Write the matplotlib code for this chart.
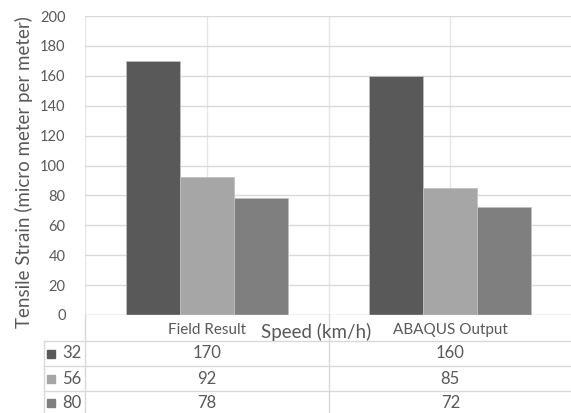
import matplotlib
matplotlib.use("Agg")
import matplotlib.pyplot as plt
import numpy as np

categories = ["Field Result", "ABAQUS Output"]
speeds = ["32", "56", "80"]
strain_32 = [170, 160]
strain_56 = [92, 85]
strain_80 = [78, 72]
series = [strain_32, strain_56, strain_80]
colors = ["#595959", "#a6a6a6", "#7f7f7f"]
yticks = [0, 20, 40, 60, 80, 100, 120, 140, 160, 180, 200]

plt.rcParams["font.family"] = ["Lato", "DejaVu Sans"]
TXT = "#595959"
GRID = "#d9d9d9"

W, H = 571, 413
fig = plt.figure(figsize=(W / 100, H / 100), dpi=100)

def fx(px):
    return px / W

def fy(py):
    return 1 - py / H

# plot area
ax = fig.add_axes([fx(85), fy(315), fx(572) - fx(85), fy(16) - fy(315)])
x = np.arange(len(categories))
bw = 0.222
for i, (vals, c) in enumerate(zip(series, colors)):
    ax.bar(x + (i - 1) * bw, vals, width=bw, color=c, edgecolor="#bfbfbf",
           linewidth=0.6, zorder=3)
ax.set_xlim(-0.5, 1.5)
ax.set_ylim(0, 200)
ax.set_yticks(yticks)
ax.set_yticklabels([str(t) for t in yticks], color=TXT, fontsize=10.5)
ax.tick_params(axis="y", length=0, pad=14)
ax.set_xticks([])
ax.grid(axis="y", color=GRID, linewidth=1, zorder=0)
for xv in (-0.5, 0, 0.5, 1):
    ax.axvline(xv, color="#e6e6e6", linewidth=1, zorder=0)
for s in ax.spines.values():
    s.set_visible(False)
ax.axhline(0, color=GRID, linewidth=1, zorder=4)

fig.text(fx(24), fy(172), "Tensile Strain (micro meter per meter)", rotation=90,
         ha="center", va="center", fontsize=13.5, color=TXT)

# data table below the plot
tx = fig.add_axes([fx(85), 0, fx(572) - fx(85), fy(315)])
tx.set_xlim(-0.5, 1.5)
tx.set_ylim(413, 315)
tx.axis("off")
left = -0.5 - 41 / 243.5
rows_top = [341, 366, 391]
rows_bottom = [366, 391, 416]
tx.plot([-0.5, -0.5], [315, 413], color=GRID, lw=1, clip_on=False)
tx.plot([0.5, 0.5], [315, 413], color=GRID, lw=1, clip_on=False)
tx.plot([left, left], [341, 413], color=GRID, lw=1, clip_on=False)
for yl in rows_top:
    tx.plot([left, 1.5], [yl, yl], color=GRID, lw=1, clip_on=False)

for xi, cat in zip(x, categories):
    tx.text(xi, 330, cat, ha="center", va="center", fontsize=11, color=TXT)
tx.text(0.45, 332, "Speed (km/h)", ha="center", va="center", fontsize=13.5, color=TXT)

for r, (lab, vals, c) in enumerate(zip(speeds, series, colors)):
    yc = (rows_top[r] + min(rows_bottom[r], 413)) / 2 + (0 if r < 2 else 1)
    tx.plot([left + 0.03], [yc], marker="s", markersize=6, color=c,
            linestyle="none", clip_on=False)
    tx.text(left + 0.074, yc, lab, ha="left", va="center", fontsize=12, color=TXT)
    for xi, v in zip(x, vals):
        tx.text(xi, yc, str(v), ha="center", va="center", fontsize=12, color=TXT)

fig.savefig("out.png", dpi=100)
